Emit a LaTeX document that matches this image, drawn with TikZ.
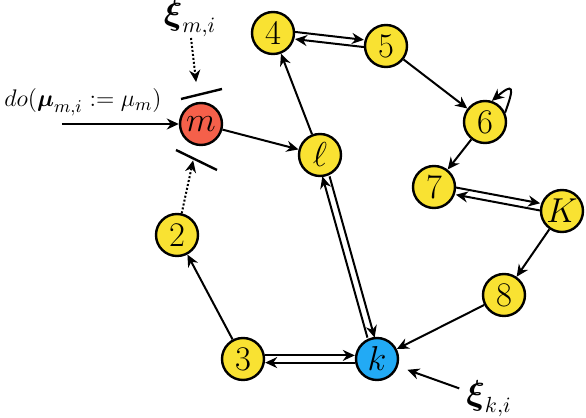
\documentclass[tikz,border=0pt]{standalone}
\usepackage{amsmath,amssymb}
\usepackage{tikz}
\usetikzlibrary{arrows.meta,positioning,calc}
\definecolor{NodeYellow}{HTML}{F9E232}
\definecolor{NodeRed}{HTML}{F5604A}
\definecolor{NodeBlue}{HTML}{22AAF5}

\begin{document}
\begin{tikzpicture}[
  x=0.5pt, y=0.5pt,
  var/.style={circle, draw, line width=1.2pt, fill=NodeYellow, minimum size=21pt, inner sep=0pt, font=\fontsize{16}{18}\selectfont},
  arr/.style={-{Stealth[length=6pt,width=5.5pt]}, line width=1pt},
  dotarr/.style={-{Stealth[length=6pt,width=5.5pt]}, line width=1pt, densely dotted},
  cut/.style={line width=1.2pt},
  up/.style={transform canvas={yshift=1.8pt}},
  down/.style={transform canvas={yshift=-1.8pt}}
]
\useasboundingbox (0,0) rectangle (586,418);
\node[var, fill=NodeRed] (m) at (201,294) {$m$};
\node[var] (ell) at (320,263) {$\ell$};
\node[var] (n4) at (273,385) {$4$};
\node[var] (n5) at (386,372) {$5$};
\node[var] (n6) at (485,296) {$6$};
\node[var] (n7) at (434,231) {$7$};
\node[var] (K) at (562,207) {$K$};
\node[var] (n8) at (504,123) {$8$};
\node[var, fill=NodeBlue] (k) at (377,59) {$k$};
\node[var] (n3) at (243,59) {$3$};
\node[var] (n2) at (177,183) {$2$};
\node[font=\fontsize{16}{18}\selectfont] (xim) at (190,399) {$\boldsymbol{\xi}_{m,i}$};
\node[font=\fontsize{13}{15}\selectfont] (do) at (83,316) {$do(\boldsymbol{\mu}_{m,i} := \mu_m)$};
\node[font=\fontsize{16}{18}\selectfont] (xik) at (489,19) {$\boldsymbol{\xi}_{k,i}$};
\coordinate (dostart) at (62,294);
\coordinate (ximfoot) at (191,380);
\draw[arr] (dostart) -- (m);
\draw[dotarr, shorten >=10pt] (ximfoot) -- (m);
\draw[dotarr, shorten >=7.5pt] (n2) -- (m);
\draw[cut] ($(m)+(-20,25)$) -- ($(m)+(21,35)$);
\draw[cut] ($(m)+(-25,-26)$) -- ($(m)+(16,-46)$);
\draw[arr, shorten >=5pt] (xik) -- (k);
\draw[arr] (m) -- (ell);
\draw[arr] (ell) -- (n4);
\draw[arr, up] (n4) -- (n5);
\draw[arr, down] (n5) -- (n4);
\draw[arr] (n5) -- (n6);
\draw[arr] (n6.25) .. controls +(70:14pt) and +(40:14pt) .. (n6.72);
\draw[arr] (n6) -- (n7);
\draw[arr, up] (n7) -- (K);
\draw[arr, down] (K) -- (n7);
\draw[arr] (K) -- (n8);
\draw[arr] (n8) -- (k);
\draw[arr, transform canvas={xshift=1.8pt}] (ell) -- (k);
\draw[arr, transform canvas={xshift=-1.8pt}] (k) -- (ell);
\draw[arr, up] (n3) -- (k);
\draw[arr, down] (k) -- (n3);
\draw[arr] (n3) -- (n2);
\end{tikzpicture}
\end{document}
